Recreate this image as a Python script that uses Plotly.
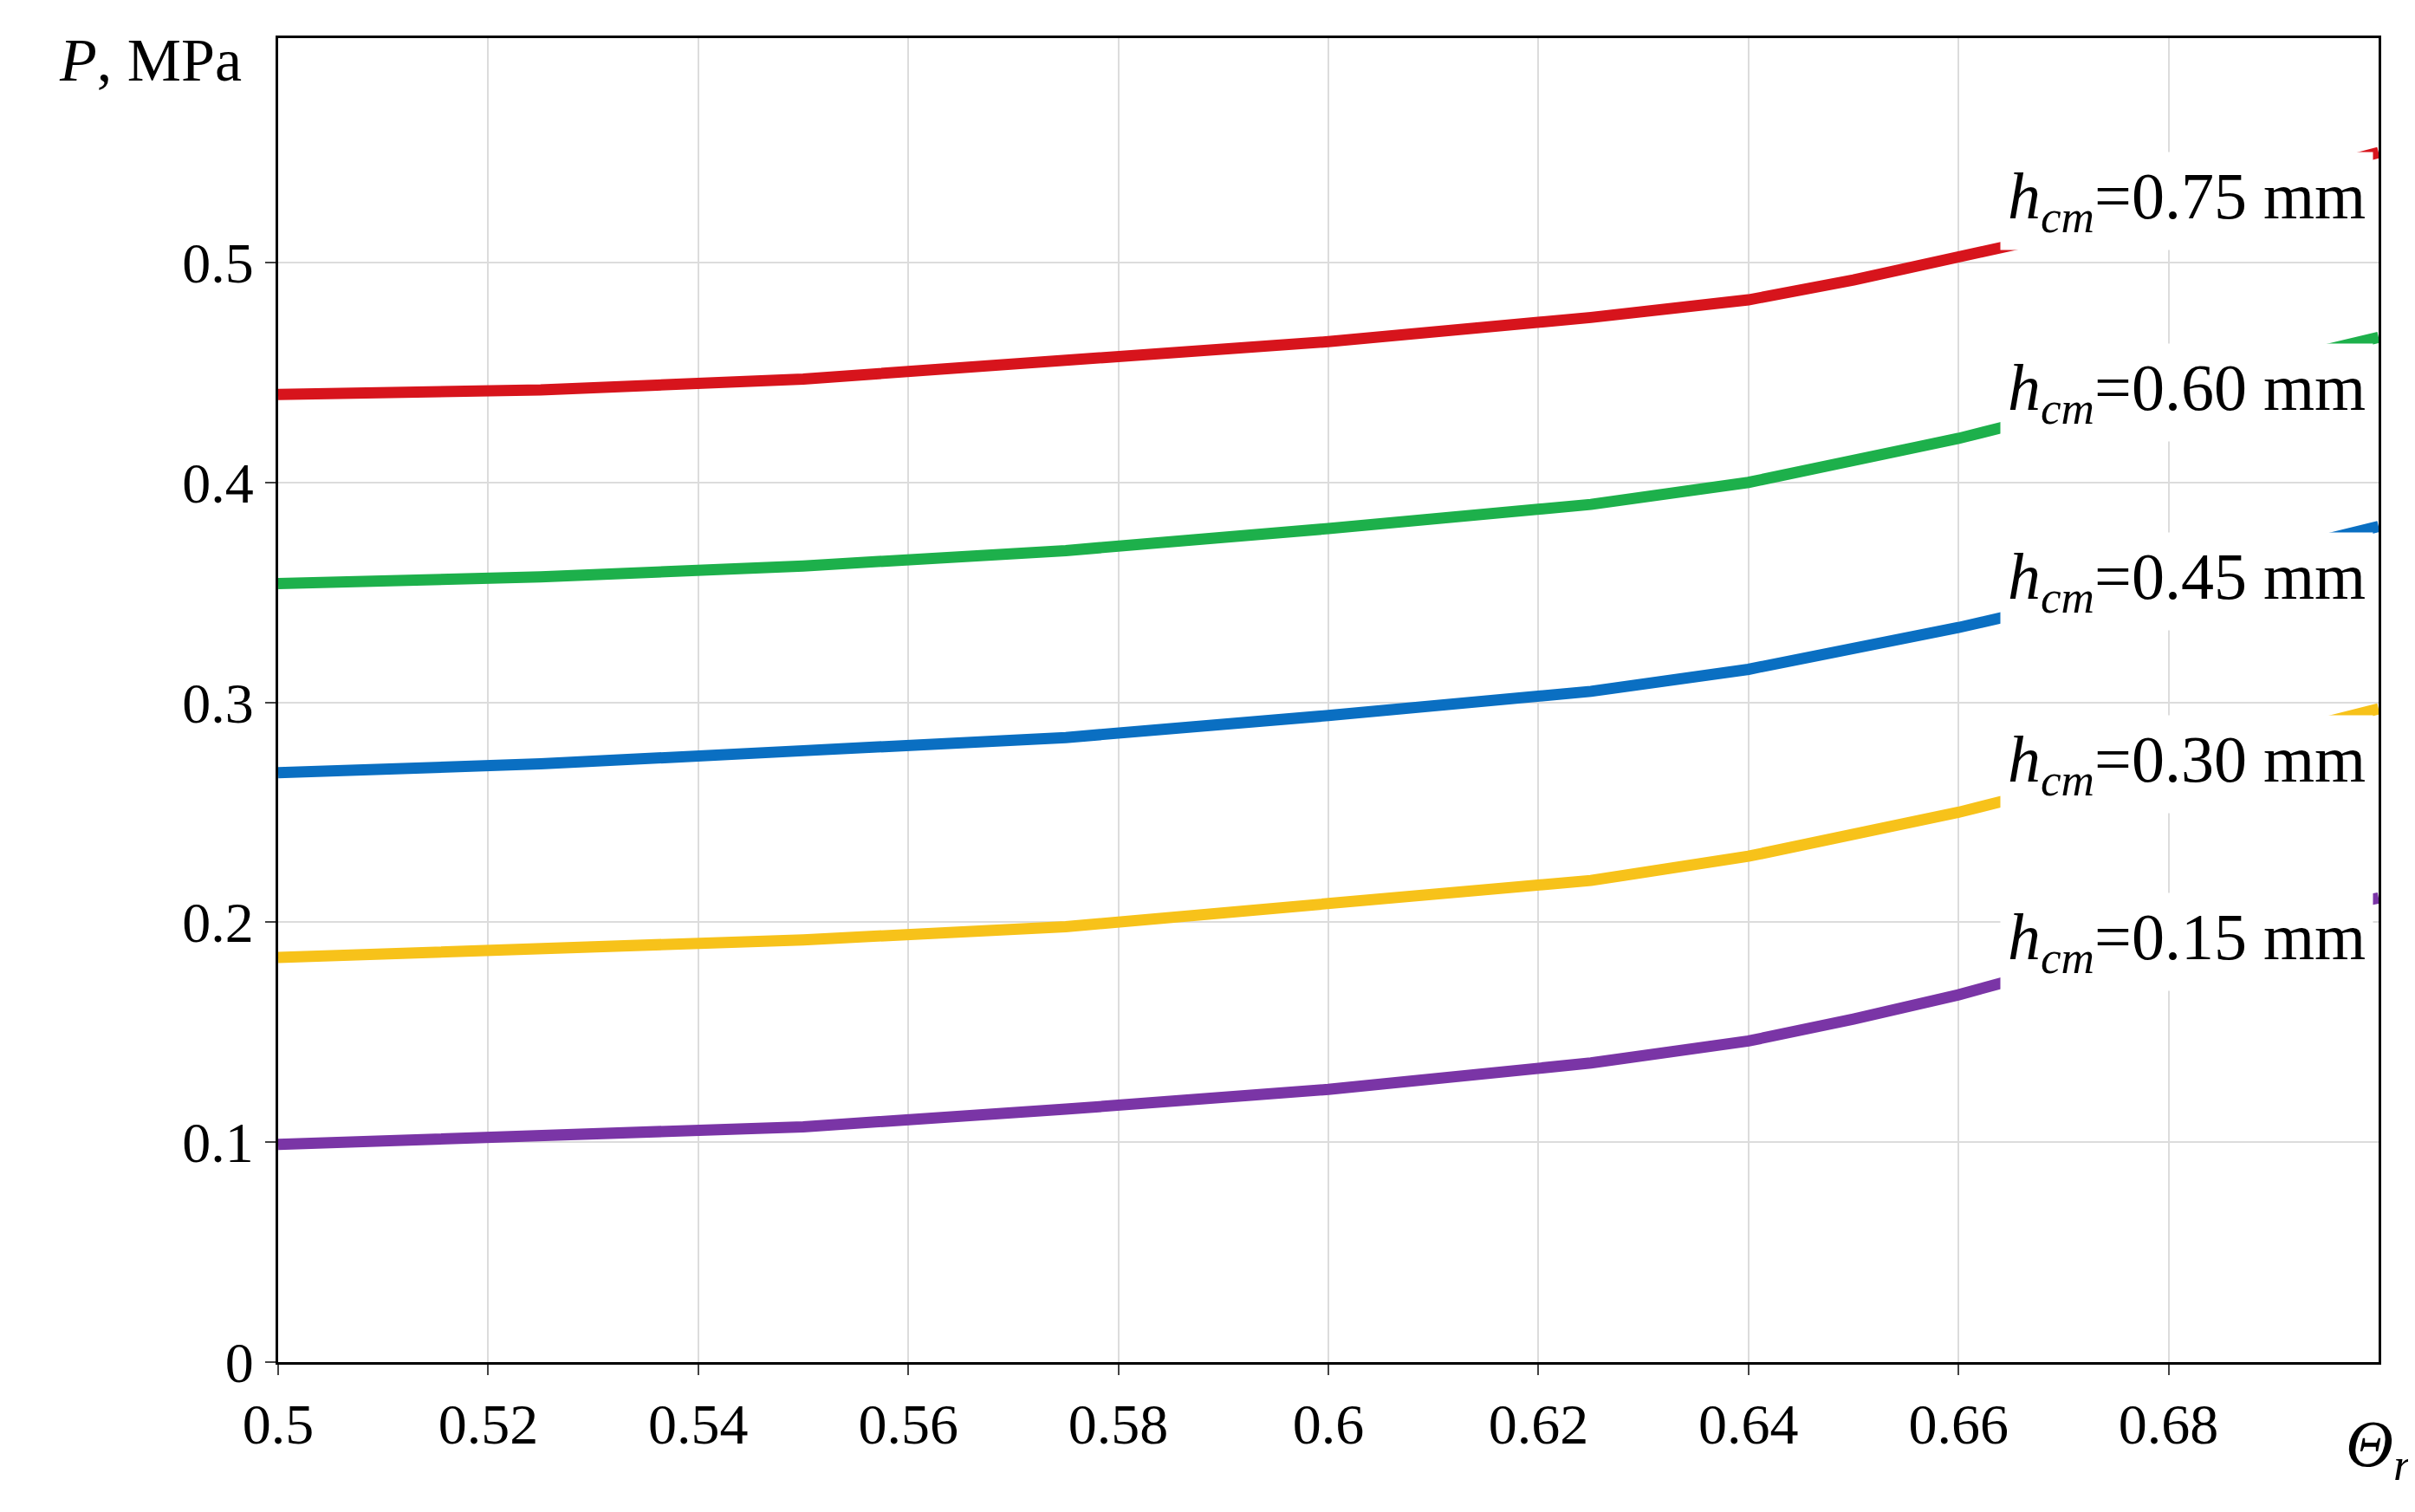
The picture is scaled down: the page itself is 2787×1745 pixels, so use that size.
import plotly.graph_objects as go

x = [0.5, 0.525, 0.55, 0.575, 0.6, 0.625, 0.64, 0.65, 0.66, 0.67, 0.68, 0.69, 0.7]
p075 = [0.44, 0.442, 0.447, 0.455, 0.464, 0.475, 0.483, 0.492, 0.502, 0.513, 0.525, 0.537, 0.55]
p060 = [0.354, 0.357, 0.362, 0.369, 0.379, 0.39, 0.4, 0.41, 0.42, 0.432, 0.443, 0.454, 0.466]
p045 = [0.268, 0.272, 0.278, 0.284, 0.294, 0.305, 0.315, 0.324, 0.334, 0.345, 0.357, 0.368, 0.38]
p030 = [0.184, 0.188, 0.192, 0.198, 0.208, 0.219, 0.23, 0.24, 0.25, 0.262, 0.273, 0.285, 0.297]
p015 = [0.099, 0.103, 0.107, 0.115, 0.124, 0.136, 0.146, 0.156, 0.167, 0.18, 0.192, 0.202, 0.211]
labels = ["0.75", "0.60", "0.45", "0.30", "0.15"]
label_y = [0.528, 0.441, 0.355, 0.272, 0.191]
colors = ["#d7141c", "#1db04b", "#0a6fc2", "#f7c21a", "#7a35a6"]
series = [p075, p060, p045, p030, p015]
xticks = [0.5, 0.52, 0.54, 0.56, 0.58, 0.6, 0.62, 0.64, 0.66, 0.68]

font = "Liberation Serif"
fig = go.Figure()
for s, c in zip(series, colors):
    fig.add_trace(go.Scatter(x=x, y=s, mode="lines", line=dict(color=c, width=13),
                             showlegend=False))
for lab, ly in zip(labels, label_y):
    fig.add_annotation(x=0.6995, y=ly, xref="x", yref="y", xanchor="right",
                       text=f"<i>h</i><sub><i>cm</i></sub>={lab} mm", showarrow=False,
                       bgcolor="white", borderpad=8,
                       font=dict(family=font, size=76, color="black"))
fig.add_annotation(x=0, y=1.01, xref="paper", yref="paper", xanchor="right", yanchor="top",
                   xshift=-40, text="<i>P</i>, MPa", showarrow=False,
                   font=dict(family=font, size=70, color="black"))
fig.add_annotation(x=0.7, y=0, xref="x", yref="paper", yanchor="top", yshift=-50,
                   text="<i>Θ<sub>r</sub></i>", showarrow=False,
                   font=dict(family=font, size=76, color="black"))
fig.update_layout(
    width=2787, height=1745, plot_bgcolor="white", paper_bgcolor="white",
    margin=dict(l=313, r=50, t=36, b=181),
    font=dict(family=font, size=66, color="black"),
)
fig.update_xaxes(range=[0.5, 0.7], tickvals=xticks, ticktext=[f"{v:g}" for v in xticks],
                 showgrid=True, gridcolor="#dcdcdc", gridwidth=2,
                 showline=True, linecolor="black", linewidth=3, mirror=True,
                 ticks="outside", ticklen=12, tickwidth=2, zeroline=False)
fig.update_yaxes(range=[0, 0.602], tickvals=[0, 0.1, 0.2, 0.3, 0.4, 0.5],
                 ticktext=["0", "0.1", "0.2", "0.3", "0.4", "0.5"],
                 showgrid=True, gridcolor="#dcdcdc", gridwidth=2,
                 showline=True, linecolor="black", linewidth=3, mirror=True,
                 ticks="outside", ticklen=12, tickwidth=2, zeroline=False)
fig.write_html("out.html")
